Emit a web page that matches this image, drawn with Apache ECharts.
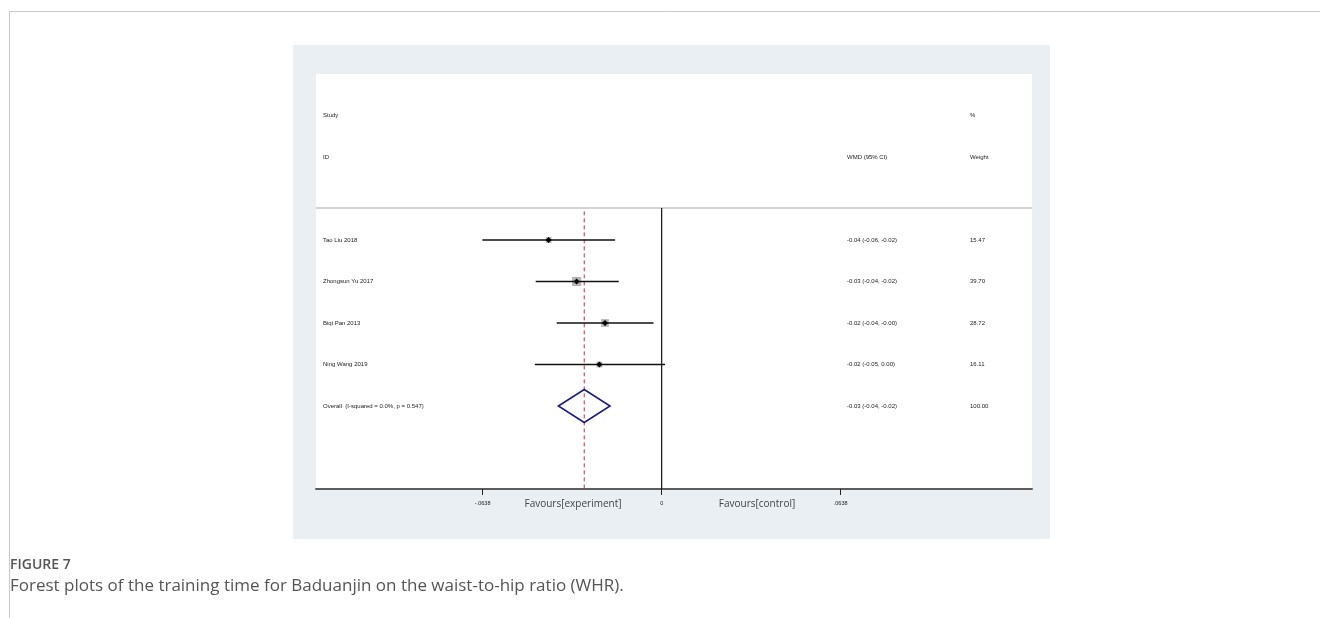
<!DOCTYPE html>
<html>
<head>
<meta charset="utf-8">
<script src="https://cdn.jsdelivr.net/npm/echarts@6/dist/echarts.min.js"></script>
<style>
  html, body { margin: 0; padding: 0; background: #fff; }
  #chart { width: 1320px; height: 618px; }
</style>
</head>
<body>
<div id="chart"></div>
<script>
// Study-level estimates (weighted mean difference with 95% CI) and weights
const studies = ['Tao Liu 2018', 'Zhongsun Yu 2017', 'Biqi Pan 2013', 'Ning Wang 2019'];
const wmd     = [-0.0403, -0.0303, -0.0202, -0.0222];
const ciLow   = [-0.0639, -0.0449, -0.0374, -0.0452];
const ciHigh  = [-0.0166, -0.0153, -0.0029,  0.0012];
const weights = [15.47, 39.70, 28.72, 16.11];

// Pooled estimate
const overallLabel = 'Overall  (I-squared = 0.0%, p = 0.547)';
const overallEst  = -0.0276;
const overallLow  = -0.0368;
const overallHigh = -0.0184;
const overallWeight = 100.00;

// Axis ticks
const tickValues = [-0.0638, 0, 0.0638];
const tickLabels = ['-.0638', '0', '.0638'];

const fmt = v => v.toFixed(2);

// Row layout on the vertical value axis (inverted): header rows at -3/-2, studies 0..3, overall 4
const ROW_STUDY_HDR = -3, ROW_ID_HDR = -2, ROW_OVERALL = studies.length, HEADER_LINE = -0.77;
const X_MIN = -0.1232, X_MAX = 0.1320;

const smallFont = { fontFamily: 'Liberation Sans, Arial, sans-serif', fontSize: 6, fill: '#222' };
const COL_LABEL = 323, COL_CI = 847, COL_W = 970;

const chart = echarts.init(document.getElementById('chart'), null, { renderer: 'canvas' });

function textEl(x, y, str) {
  return { type: 'text', x: x, y: y, style: Object.assign({ text: str, verticalAlign: 'middle', align: 'left' }, smallFont) };
}

chart.setOption({
  animation: false,
  backgroundColor: '#fff',
  grid: {
    left: 316, right: 288, top: 74, bottom: 129,
    show: true, backgroundColor: '#ffffff', borderWidth: 0
  },
  xAxis: {
    type: 'value', min: X_MIN, max: X_MAX,
    splitLine: { show: false },
    axisLine: { show: true, onZero: false, lineStyle: { color: '#5c5c5c', width: 2 } },
    axisTick: { show: true, customValues: tickValues, length: 6, lineStyle: { color: '#222', width: 1 } },
    axisLabel: {
      show: true, customValues: tickValues, margin: 11,
      fontFamily: 'Liberation Sans, Arial, sans-serif', fontSize: 5.5, color: '#222',
      formatter: v => tickLabels[tickValues.indexOf(v)] ?? ''
    }
  },
  yAxis: {
    type: 'value', inverse: true, min: -4, max: 6, show: false
  },
  graphic: [
    // page frame
    { type: 'line', shape: { x1: 9.5, y1: 11.5, x2: 1320, y2: 11.5 }, style: { stroke: '#c8c8c8', lineWidth: 1 }, z: -20 },
    { type: 'line', shape: { x1: 9.5, y1: 11.5, x2: 9.5, y2: 618 }, style: { stroke: '#c8c8c8', lineWidth: 1 }, z: -20 },
    // figure panel
    { type: 'rect', shape: { x: 293, y: 45, width: 757, height: 494 }, style: { fill: '#e9eff2' }, z: -30, silent: true },
    // favour labels
    { type: 'text', x: 573, y: 504, style: { text: 'Favours[experiment]', align: 'center', verticalAlign: 'middle', fontFamily: 'Open Sans, sans-serif', fontSize: 10, fill: '#444' } },
    { type: 'text', x: 757, y: 504, style: { text: 'Favours[control]', align: 'center', verticalAlign: 'middle', fontFamily: 'Open Sans, sans-serif', fontSize: 10, fill: '#444' } },
    // caption
    { type: 'text', x: 10, y: 565, style: { text: 'FIGURE 7', align: 'left', verticalAlign: 'middle', fontFamily: 'Open Sans, sans-serif', fontSize: 14, fontWeight: 600, fill: '#555' } },
    { type: 'text', x: 10, y: 586, style: { text: 'Forest plots of the training time for Baduanjin on the waist-to-hip ratio (WHR).', align: 'left', verticalAlign: 'middle', fontFamily: 'Open Sans, sans-serif', fontSize: 17, fill: '#555' } }
  ],
  series: [
    // header rule, null line and pooled-estimate line
    {
      type: 'custom', data: [0], silent: true, z: 1,
      renderItem: (params, api) => {
        const left = api.coord([X_MIN, HEADER_LINE]);
        const right = api.coord([X_MAX, HEADER_LINE]);
        const zTop = api.coord([0, HEADER_LINE]);
        const zBot = api.coord([0, 6]);
        const oTop = api.coord([overallEst, HEADER_LINE + 0.08]);
        const oBot = api.coord([overallEst, 6]);
        return { type: 'group', children: [
          { type: 'line', shape: { x1: left[0], y1: left[1], x2: right[0], y2: right[1] }, style: { stroke: '#c4c4c4', lineWidth: 1.5 } },
          { type: 'line', shape: { x1: zTop[0], y1: zTop[1], x2: zBot[0], y2: zBot[1] }, style: { stroke: '#111', lineWidth: 1.2 } },
          { type: 'line', shape: { x1: oTop[0], y1: oTop[1], x2: oBot[0], y2: oBot[1] }, style: { stroke: '#c0303a', lineWidth: 1, lineDash: [4, 3] } }
        ] };
      }
    },
    // study rows: CI line, weight box, point estimate
    {
      type: 'custom', silent: true, z: 3,
      data: studies.map((s, i) => [i, wmd[i], ciLow[i], ciHigh[i], weights[i]]),
      renderItem: (params, api) => {
        const row = api.value(0);
        const est = api.coord([api.value(1), row]);
        const lo = api.coord([api.value(2), row]);
        const hi = api.coord([api.value(3), row]);
        const side = 1.45 * Math.sqrt(api.value(4));
        const d = 3;
        return { type: 'group', children: [
          { type: 'rect', shape: { x: est[0] - side / 2, y: est[1] - side / 2, width: side, height: side }, style: { fill: '#b4b4b4' } },
          { type: 'line', shape: { x1: lo[0], y1: lo[1], x2: hi[0], y2: hi[1] }, style: { stroke: '#111', lineWidth: 1.5 } },
          { type: 'polygon', shape: { points: [[est[0], est[1] - d], [est[0] + d, est[1]], [est[0], est[1] + d], [est[0] - d, est[1]]] }, style: { fill: '#000' } }
        ] };
      }
    },
    // pooled diamond
    {
      type: 'custom', silent: true, z: 3,
      data: [[ROW_OVERALL, overallEst, overallLow, overallHigh]],
      renderItem: (params, api) => {
        const row = api.value(0);
        const c = api.coord([api.value(1), row]);
        const lo = api.coord([api.value(2), row]);
        const hi = api.coord([api.value(3), row]);
        const h = 16.5;
        return { type: 'polygon', shape: { points: [[lo[0], c[1]], [c[0], c[1] - h], [hi[0], c[1]], [c[0], c[1] + h]] },
          style: { fill: 'none', stroke: '#1c1c80', lineWidth: 1.6 } };
      }
    },
    // text columns
    {
      type: 'custom', silent: true, z: 4,
      data: [0],
      renderItem: (params, api) => {
        const y = r => api.coord([0, r])[1];
        const kids = [
          textEl(COL_LABEL, y(ROW_STUDY_HDR), 'Study'),
          textEl(COL_LABEL, y(ROW_ID_HDR), 'ID'),
          textEl(COL_CI, y(ROW_ID_HDR), 'WMD (95% CI)'),
          textEl(COL_W, y(ROW_STUDY_HDR), '%'),
          textEl(COL_W, y(ROW_ID_HDR), 'Weight')
        ];
        studies.forEach((s, i) => {
          kids.push(textEl(COL_LABEL, y(i), s));
          kids.push(textEl(COL_CI, y(i), fmt(wmd[i]) + ' (' + fmt(ciLow[i]) + ', ' + fmt(ciHigh[i]) + ')'));
          kids.push(textEl(COL_W, y(i), fmt(weights[i])));
        });
        kids.push(textEl(COL_LABEL, y(ROW_OVERALL), overallLabel));
        kids.push(textEl(COL_CI, y(ROW_OVERALL), fmt(overallEst) + ' (' + fmt(overallLow) + ', ' + fmt(overallHigh) + ')'));
        kids.push(textEl(COL_W, y(ROW_OVERALL), fmt(overallWeight)));
        return { type: 'group', children: kids };
      }
    }
  ]
});
</script>
</body>
</html>
